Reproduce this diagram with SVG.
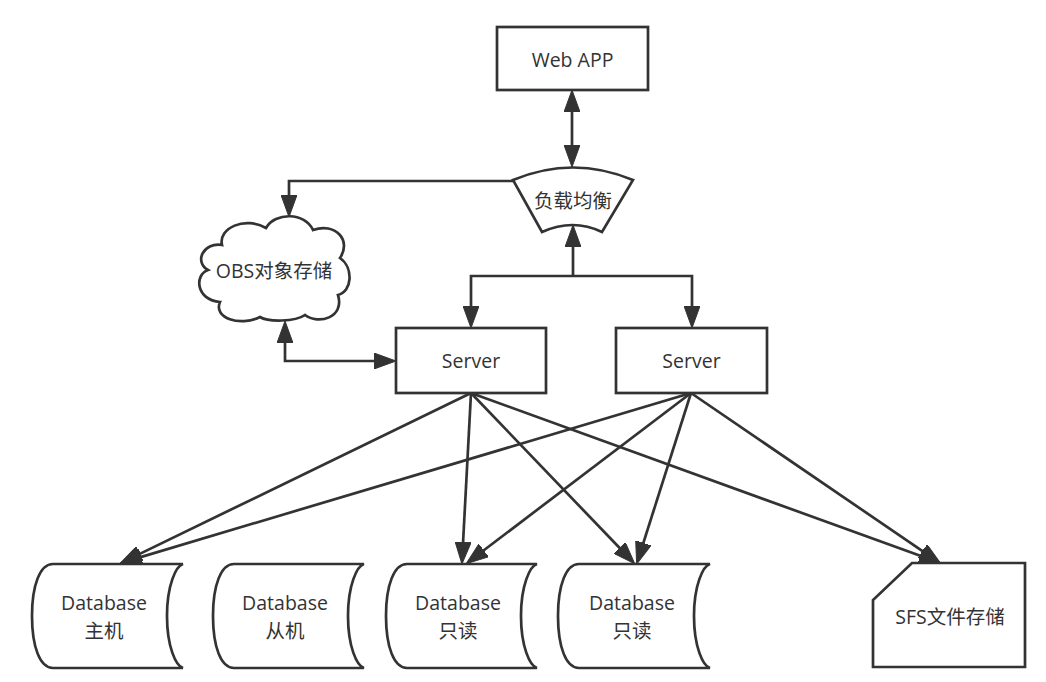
<svg xmlns="http://www.w3.org/2000/svg" width="1046" height="682" viewBox="0 0 1046 682">
<style>
.s{fill:#ffffff;stroke:#333333;stroke-width:2.7;stroke-linejoin:miter}
.t{font-family:"Open Sans","Noto Sans CJK SC",sans-serif;font-size:19.5px;fill:#333333;text-anchor:middle}
.c{fill:none;stroke:#333333;stroke-width:2.7}
.a{marker-end:url(#arr)}
.b{marker-start:url(#arr);marker-end:url(#arr)}
</style>
<defs>
<marker id="arr" markerUnits="userSpaceOnUse" viewBox="0 0 22 16" markerWidth="22" markerHeight="16" refX="11" refY="8" orient="auto-start-reverse">
<path d="M0,0 L22,8 L0,16 Z" fill="#333333" stroke="#333333" stroke-width="1"/>
</marker>
</defs>
<rect width="1046" height="682" fill="#ffffff"/>
<g id="connectors">
<path class="c b" d="M572,101 L572,156"/>
<path class="c a" d="M513,181 L289,181 L289,206"/>
<path class="c a" d="M573,276 L573,236"/>
<path class="c b" d="M471,317 L471,276 L692,276 L692,317"/>
<path class="c b" d="M285,332 L285,361 L385,361"/>
<path class="c a" d="M471,393 L130,558.6"/>
<path class="c a" d="M471,393 L462.5,553"/>
<path class="c a" d="M471,393 L627.1,555.8"/>
<path class="c a" d="M471,393 L930.6,559.6"/>
<path class="c a" d="M691,393 L130.6,560.1"/>
<path class="c a" d="M691,393 L475,557"/>
<path class="c a" d="M691,393 L640,553.5"/>
<path class="c a" d="M691,393 L931.7,557.4"/>
</g>
<g id="webapp">
<rect class="s" x="497" y="27" width="151" height="63"/>
<text class="t" x="572.5" y="66.5">Web APP</text>
</g>
<g id="loadbalancer">
<path class="s" d="M513,180 Q573,155 633,180 L602,232 Q573,218 542,232 Z"/>
<text class="t" x="573" y="208">负载均衡</text>
</g>
<g id="obs">
<path class="s" d="M222,245 C218,228 245,216 266,228 C275,212 305,212 313,230 C335,222 352,240 340,258 C354,268 352,292 338,295 C345,318 318,325 305,315 C295,322 268,322 260,317 C240,327 213,318 220,302 C196,300 194,275 208,270 C194,262 203,242 222,245 Z"/>
<text class="t" x="274" y="278">OBS对象存储</text>
</g>
<g id="server1">
<rect class="s" x="396" y="328" width="150" height="65"/>
<text class="t" x="471" y="368">Server</text>
</g>
<g id="server2">
<rect class="s" x="616" y="328" width="151" height="65"/>
<text class="t" x="691.5" y="368">Server</text>
</g>
<g id="db-master">
<path class="s" d="M53,564 C40,564 32,585 32,616 C32,647 40,668 53,668 L183,668 C176,666 167,647 167,616 C167,585 176,566 183,564 Z"/>
<text class="t" x="104" y="610">Database</text>
<text class="t" x="104" y="638">主机</text>
</g>
<g id="db-slave">
<path class="s" d="M234,564 C221,564 213,585 213,616 C213,647 221,668 234,668 L364,668 C357,666 348,647 348,616 C348,585 357,566 364,564 Z"/>
<text class="t" x="285" y="610">Database</text>
<text class="t" x="285" y="638">从机</text>
</g>
<g id="db-readonly1">
<path class="s" d="M407,564 C394,564 386,585 386,616 C386,647 394,668 407,668 L537,668 C530,666 521,647 521,616 C521,585 530,566 537,564 Z"/>
<text class="t" x="458" y="610">Database</text>
<text class="t" x="458" y="638">只读</text>
</g>
<g id="db-readonly2">
<path class="s" d="M579,564 C566,564 558,585 558,616 C558,647 566,668 579,668 L710,668 C703,666 694,647 694,616 C694,585 703,566 710,564 Z"/>
<text class="t" x="632" y="610">Database</text>
<text class="t" x="632" y="638">只读</text>
</g>
<g id="sfs">
<path class="s" d="M912,563 L1025,563 L1025,667 L873,667 L873,600 Z"/>
<text class="t" x="950" y="624">SFS文件存储</text>
</g>
</svg>
